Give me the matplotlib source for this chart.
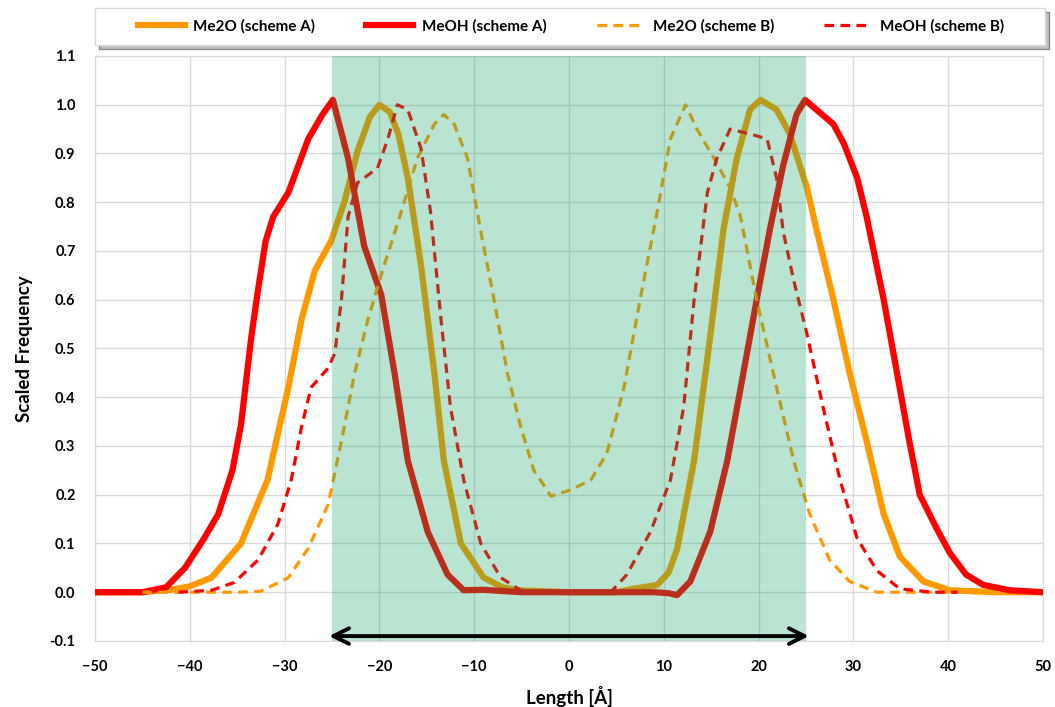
import matplotlib
matplotlib.use("Agg")
import matplotlib.pyplot as plt
from matplotlib.patches import Rectangle, Shadow

# values
me2o_a_x = [-50, -45, -42, -40, -37.7, -34.6, -31.8, -29.6, -28.2, -26.8, -25.1, -23.7, -22.3, -21, -20,
            -18.9, -18, -17, -15.6, -14.2, -13.2, -11.4, -9, -7, -5.4, 0, 5, 6.8, 9.3, 10.5, 11.4, 13.2, 14.9,
            16.3, 17.7, 19.1, 20.2, 21.9, 23.3, 25.1, 26.1, 27.9, 29.6, 31.4, 33.2, 34.9, 37.4, 40.2, 45, 50]
me2o_a_y = [0, 0, 0.005, 0.012, 0.03, 0.10, 0.23, 0.42, 0.56, 0.66, 0.72, 0.80, 0.905, 0.975, 1.0,
            0.985, 0.94, 0.85, 0.67, 0.45, 0.27, 0.10, 0.03, 0.01, 0.004, 0, 0, 0.007, 0.015, 0.04, 0.088, 0.27,
            0.525, 0.745, 0.89, 0.99, 1.01, 0.99, 0.94, 0.83, 0.745, 0.60, 0.45, 0.31, 0.16, 0.073, 0.022, 0.004,
            0, 0]

meoh_a_x = [-50, -45, -42.5, -40.5, -38.5, -37, -35.5, -34.6, -33.5, -32.8, -32, -31.2, -29.6, -27.5, -26,
            -24.9, -23.3, -21.6, -19.8, -18.4, -17, -14.9, -12.8, -11.1, -9, -5, 0, 5, 9, 10.5, 11.4, 12.8,
            14.9, 16.7, 18.4, 19.8, 21.2, 22.6, 24, 24.9, 26.1, 27.9, 29, 30.4, 31.4, 33.2, 34.6, 35.9, 37,
            38.8, 40.2, 41.9, 43.7, 46.5, 50]
meoh_a_y = [0, 0, 0.01, 0.05, 0.11, 0.16, 0.25, 0.343, 0.525, 0.62, 0.72, 0.77, 0.82, 0.93, 0.98,
            1.01, 0.89, 0.71, 0.61, 0.45, 0.27, 0.124, 0.036, 0.004, 0.005, 0, 0, 0, 0, -0.002, -0.006, 0.022,
            0.124, 0.27, 0.45, 0.60, 0.745, 0.876, 0.98, 1.01, 0.99, 0.96, 0.92, 0.85, 0.77, 0.60, 0.45, 0.31,
            0.20, 0.13, 0.08, 0.036, 0.015, 0.004, 0]

me2o_b_x = [-45, -40, -35, -32.5, -29.6, -27.5, -25.4, -24, -22.6, -21.2, -19.5, -17.7, -16, -14.2, -13.2,
            -12.1, -10.7, -9.3, -7.9, -6.5, -5.1, -3.7, -1.9, 0.2, 2.3, 4.0, 5.8, 7.5, 9.3, 10.7, 12.3, 13.5,
            15.3, 17, 18.1, 19.8, 21.9, 23.7, 25.4, 27.5, 29.6, 32.5, 36, 40]
me2o_b_y = [0, 0, 0, 0.002, 0.03, 0.09, 0.18, 0.31, 0.45, 0.56, 0.67, 0.78, 0.89, 0.96, 0.98,
            0.96, 0.89, 0.74, 0.60, 0.45, 0.34, 0.25, 0.197, 0.21, 0.23, 0.285, 0.42, 0.60, 0.78, 0.93, 1.0, 0.95,
            0.89, 0.83, 0.77, 0.60, 0.42, 0.27, 0.16, 0.066, 0.022, 0, 0, 0]

meoh_b_x = [-41.2, -37.7, -35.3, -32.8, -30.7, -29.3, -28.2, -27.2, -25.4, -24.7, -24.0, -23.3, -22.3, -20.2,
            -19.1, -18.1, -17, -15.6, -14.6, -13.5, -12.5, -11.1, -9.3, -7.2, -5.1, 0, 4.4, 6.1, 8.6, 10.7,
            12.1, 13.2, 14.6, 15.6, 17, 19.1, 20.9, 21.9, 22.6, 23.7, 25.1, 26.8, 28.6, 30.4, 32.5, 34.9, 38.4, 41]
meoh_b_y = [0, 0.004, 0.02, 0.066, 0.14, 0.23, 0.34, 0.42, 0.46, 0.49, 0.60, 0.77, 0.84, 0.87,
            0.93, 1.0, 0.99, 0.91, 0.78, 0.56, 0.38, 0.23, 0.10, 0.03, 0.004, 0, 0, 0.036, 0.124, 0.23,
            0.38, 0.60, 0.82, 0.89, 0.95, 0.94, 0.93, 0.85, 0.74, 0.64, 0.53, 0.38, 0.23, 0.11, 0.044, 0.007, 0, 0]

x_ticks = list(range(-50, 51, 10))
y_ticks = [-0.1, 0.0, 0.1, 0.2, 0.3, 0.4, 0.5, 0.6, 0.7, 0.8, 0.9, 1.0, 1.1]

plt.rcParams['font.family'] = ['Lato', 'DejaVu Sans']

W, H = 1055, 707
fig = plt.figure(figsize=(W / 100, H / 100), dpi=100)
ax = fig.add_axes([0.090, 0.0934, 0.8986, 0.8274])

orange = '#FF9900'
red = '#FF0000'

ax.plot(me2o_a_x, me2o_a_y, color=orange, lw=4.5, label='Me2O (scheme A)', zorder=3, solid_joinstyle='round')
ax.plot(meoh_a_x, meoh_a_y, color=red, lw=4.5, label='MeOH (scheme A)', zorder=3, solid_joinstyle='round')
ax.plot(me2o_b_x, me2o_b_y, color=orange, lw=2.3, ls=(0, (3, 2)), label='Me2O (scheme B)', zorder=3)
ax.plot(meoh_b_x, meoh_b_y, color=red, lw=2.3, ls=(0, (3, 2)), label='MeOH (scheme B)', zorder=3)

# shaded membrane region
ax.axvspan(-25, 25, color='#0EA564', alpha=0.29, lw=0, zorder=5)
ax.annotate('', xy=(-25.3, -0.09), xytext=(25.3, -0.09),
            arrowprops=dict(arrowstyle='<->', lw=2.8, color='black', mutation_scale=28,
                            shrinkA=0, shrinkB=0), zorder=6)

ax.set_xlim(-50, 50)
ax.set_ylim(-0.1, 1.1)
ax.set_xticks(x_ticks)
ax.set_yticks(y_ticks)
ax.set_yticklabels([f'{v:.1f}' for v in y_ticks])
ax.tick_params(length=0, labelsize=10.5, pad=14)
for lab in ax.get_xticklabels() + ax.get_yticklabels():
    lab.set_fontweight('bold')

ax.grid(color='#D9D9D9', lw=1, zorder=0)
ax.set_axisbelow(True)
for s in ax.spines.values():
    s.set_color('#D9D9D9')

ax.set_xlabel('Length [Å]', fontsize=13.5, fontweight='bold', labelpad=8)
ax.set_ylabel('Scaled Frequency', fontsize=13.5, fontweight='bold', labelpad=12)

# legend box with a drop shadow
box = Rectangle((95 / W, 1 - 45 / H), 950 / W, 37 / H, transform=fig.transFigure,
                facecolor='white', edgecolor='#D9D9D9', lw=1, zorder=1)
shadow = Shadow(box, 3 / W, -3 / H)
shadow.set_facecolor('#999999')
shadow.set_alpha(0.6)
fig.patches.extend([shadow, box])

leg = fig.legend(loc='center', bbox_to_anchor=(571 / W, 1 - 26.5 / H), ncol=4, frameon=False,
                 prop={'weight': 'bold', 'size': 11}, handlelength=3.1, handletextpad=0.55,
                 columnspacing=3.3)

fig.savefig('out.png', dpi=100)
